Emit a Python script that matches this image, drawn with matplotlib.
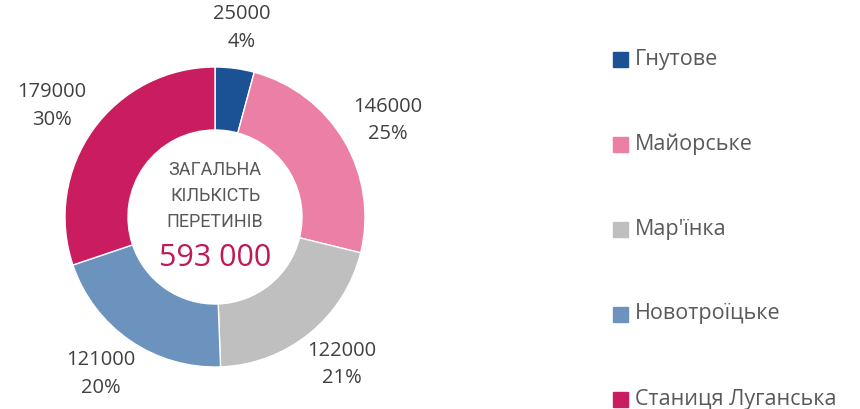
import numpy as np
import matplotlib.pyplot as plt
from matplotlib.patches import Rectangle

# Data
places = ['Гнутове', 'Майорське', "Мар'їнка", 'Новотроїцьке', 'Станиця Луганська']
crossings = [25000, 146000, 122000, 121000, 179000]
colors = ['#1B5295', '#EB7FA5', '#BFBFBF', '#6C93BE', '#C91D5F']
total_label = '593 000'
center_title = 'ЗАГАЛЬНА\nКІЛЬКІСТЬ\nПЕРЕТИНІВ'

plt.rcParams['font.family'] = ['Open Sans', 'DejaVu Sans']
text_gray = '#595959'
label_gray = '#404040'

fig = plt.figure(figsize=(8.6, 4.09), dpi=100)

# donut axes: centre (215, 217) px, outer radius 150 px
W, H = 860, 409
ax = fig.add_axes([65 / W, (H - 367) / H, 300 / W, 300 / H])
wedges, _ = ax.pie(crossings, colors=colors, startangle=90, counterclock=False,
                   radius=1.0, wedgeprops=dict(width=0.42, edgecolor='white', linewidth=1))
ax.set_xlim(-1, 1)
ax.set_ylim(-1, 1)
ax.set_aspect('equal')
ax.axis('off')

# outside labels: anchor just off the ring, box pushed outward along the mid angle
total = sum(crossings)
half_w, half_h = 0.24, 0.17
for w, v in zip(wedges, crossings):
    ang = np.deg2rad((w.theta1 + w.theta2) / 2)
    r = 1.1
    x = r * np.cos(ang) + half_w * np.cos(ang)
    y = r * np.sin(ang) + half_h * np.sin(ang)
    ax.text(x, y, f'{v}\n{v / total:.0%}',
            ha='center', va='center', fontsize=14.5, color=label_gray,
            linespacing=1.5, clip_on=False)

ax.text(0, 0.14, center_title, ha='center', va='center', fontsize=13,
        color=text_gray, linespacing=1.6, family=['Roboto', 'DejaVu Sans'])
ax.text(0, -0.27, total_label, ha='center', va='center', fontsize=22,
        color='#C0195A')

# legend drawn by hand to match spacing
lax = fig.add_axes([0, 0, 1, 1])
lax.set_xlim(0, W)
lax.set_ylim(H, 0)
lax.axis('off')
for i, (name, c) in enumerate(zip(places, colors)):
    y = 59 + i * 85
    lax.add_patch(Rectangle((613, y - 7.5), 15, 15, color=c))
    lax.text(635, y, name, ha='left', va='center', fontsize=15.5, color=text_gray)

fig.savefig('out.png', dpi=100)
